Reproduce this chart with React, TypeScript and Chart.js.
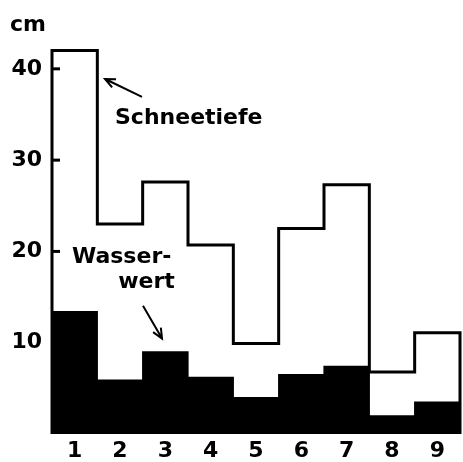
import React, { useEffect, useRef } from "react";
import { Chart, registerables } from "chart.js";

Chart.register(...registerables);

const categories = [1, 2, 3, 4, 5, 6, 7, 8, 9];
const snowDepth = [42, 23, 27.6, 20.7, 9.9, 22.5, 27.3, 6.8, 11.1];
const waterValue = [13.4, 5.9, 9.0, 6.2, 4.0, 6.5, 7.4, 2.0, 3.5];
const yTicks = [10, 20, 30, 40];
const yUnit = "cm";
const snowLabel = "Schneetiefe";
const waterLabel = ["Wasser-", "wert"];

const FONT = "'DejaVu Sans', sans-serif";
const W = 463;
const H = 462;

function arrow(ctx: CanvasRenderingContext2D, x1: number, y1: number, x2: number, y2: number) {
  const ang = Math.atan2(y2 - y1, x2 - x1);
  const len = 11;
  const spread = 0.42;
  ctx.beginPath();
  ctx.moveTo(x1, y1);
  ctx.lineTo(x2, y2);
  ctx.moveTo(x2 - len * Math.cos(ang - spread), y2 - len * Math.sin(ang - spread));
  ctx.lineTo(x2, y2);
  ctx.lineTo(x2 - len * Math.cos(ang + spread), y2 - len * Math.sin(ang + spread));
  ctx.stroke();
}

const annotPlugin = {
  id: "annot",
  afterDatasetsDraw(chart: any) {
    const { ctx, scales } = chart;
    const x = scales.x;
    const y = scales.y;
    ctx.save();
    ctx.fillStyle = "#000";
    ctx.strokeStyle = "#000";
    // inner tick marks
    ctx.lineWidth = 3;
    ctx.lineCap = "butt";
    yTicks.forEach((v) => {
      const py = y.getPixelForValue(v);
      ctx.beginPath();
      ctx.moveTo(x.left, py);
      ctx.lineTo(x.left + 8, py);
      ctx.stroke();
    });
    ctx.font = `bold 22px ${FONT}`;
    ctx.textAlign = "left";
    ctx.textBaseline = "alphabetic";
    // unit label
    ctx.fillText(yUnit, 10, y.getPixelForValue(44.2));
    // snow label
    ctx.fillText(snowLabel, x.getPixelForValue(1.89), y.getPixelForValue(34));
    // water label
    ctx.fillText(waterLabel[0], x.getPixelForValue(0.94), y.getPixelForValue(18.74));
    ctx.fillText(waterLabel[1], x.getPixelForValue(1.96), y.getPixelForValue(16.0));
    // arrows
    ctx.lineWidth = 2;
    arrow(ctx, x.getPixelForValue(2.485), y.getPixelForValue(36.93), x.getPixelForValue(1.67), y.getPixelForValue(38.89));
    arrow(ctx, x.getPixelForValue(2.507), y.getPixelForValue(14.05), x.getPixelForValue(2.927), y.getPixelForValue(10.46));
    ctx.restore();
  },
};

export default function App() {
  const ref = useRef<HTMLCanvasElement>(null);
  useEffect(() => {
    if (!ref.current) return;
    const last = categories[categories.length - 1];
    const snowPoints = [
      { x: categories[0] - 0.5, y: 0 },
      ...categories.map((c, i) => ({ x: c - 0.5, y: snowDepth[i] })),
      { x: last + 0.5, y: snowDepth[snowDepth.length - 1] },
      { x: last + 0.5, y: 0 },
    ];
    const waterPoints = categories.map((c, i) => ({ x: c, y: waterValue[i] }));
    const chart = new Chart(ref.current, {
      type: "bar",
      data: {
        datasets: [
          {
            type: "line",
            label: "Schneetiefe",
            data: snowPoints,
            borderColor: "#000",
            borderWidth: 3,
            stepped: true,
            pointRadius: 0,
            fill: false,
            borderJoinStyle: "miter",
            borderCapStyle: "butt",
            clip: false,
            order: 0,
          } as any,
          {
            type: "bar",
            label: "Wasserwert",
            data: waterPoints,
            backgroundColor: "#000",
            borderWidth: 0,
            barPercentage: 1,
            categoryPercentage: 1,
            inflateAmount: 0.6,
            order: 1,
          } as any,
        ],
      },
      options: {
        responsive: false,
        animation: false,
        layout: { padding: { top: 21, right: 3, left: 0, bottom: 0 } },
        plugins: { legend: { display: false }, tooltip: { enabled: false } },
        scales: {
          x: {
            type: "linear",
            offset: false,
            min: categories[0] - 0.5,
            max: categories[categories.length - 1] + 0.5,
            grid: { display: false, drawTicks: false, offset: false },
            border: { display: false },
            afterBuildTicks: (s: any) => {
              s.ticks = categories.map((v) => ({ value: v }));
            },
            afterFit: (s: any) => {
              s.height = 28;
            },
            ticks: {
              color: "#000",
              padding: 4,
              maxRotation: 0,
              autoSkip: false,
              font: { family: FONT, size: 22, weight: "bold" },
              callback: (v: any) => String(v),
            },
          },
          y: {
            min: 0,
            max: 45,
            grid: { display: false, drawTicks: false },
            border: { display: false },
            afterBuildTicks: (s: any) => {
              s.ticks = yTicks.map((v) => ({ value: v }));
            },
            afterFit: (s: any) => {
              s.width = 52;
            },
            ticks: {
              color: "#000",
              padding: 10,
              font: { family: FONT, size: 22, weight: "bold" },
              callback: (v: any) => String(v),
            },
          },
        },
      },
      plugins: [annotPlugin],
    });
    return () => chart.destroy();
  }, []);
  return (
    <div style={{ position: "fixed", left: 0, top: 0, width: W, height: H, background: "#fff" }}>
      <canvas ref={ref} width={W} height={H} style={{ width: W, height: H, display: "block" }} />
    </div>
  );
}
